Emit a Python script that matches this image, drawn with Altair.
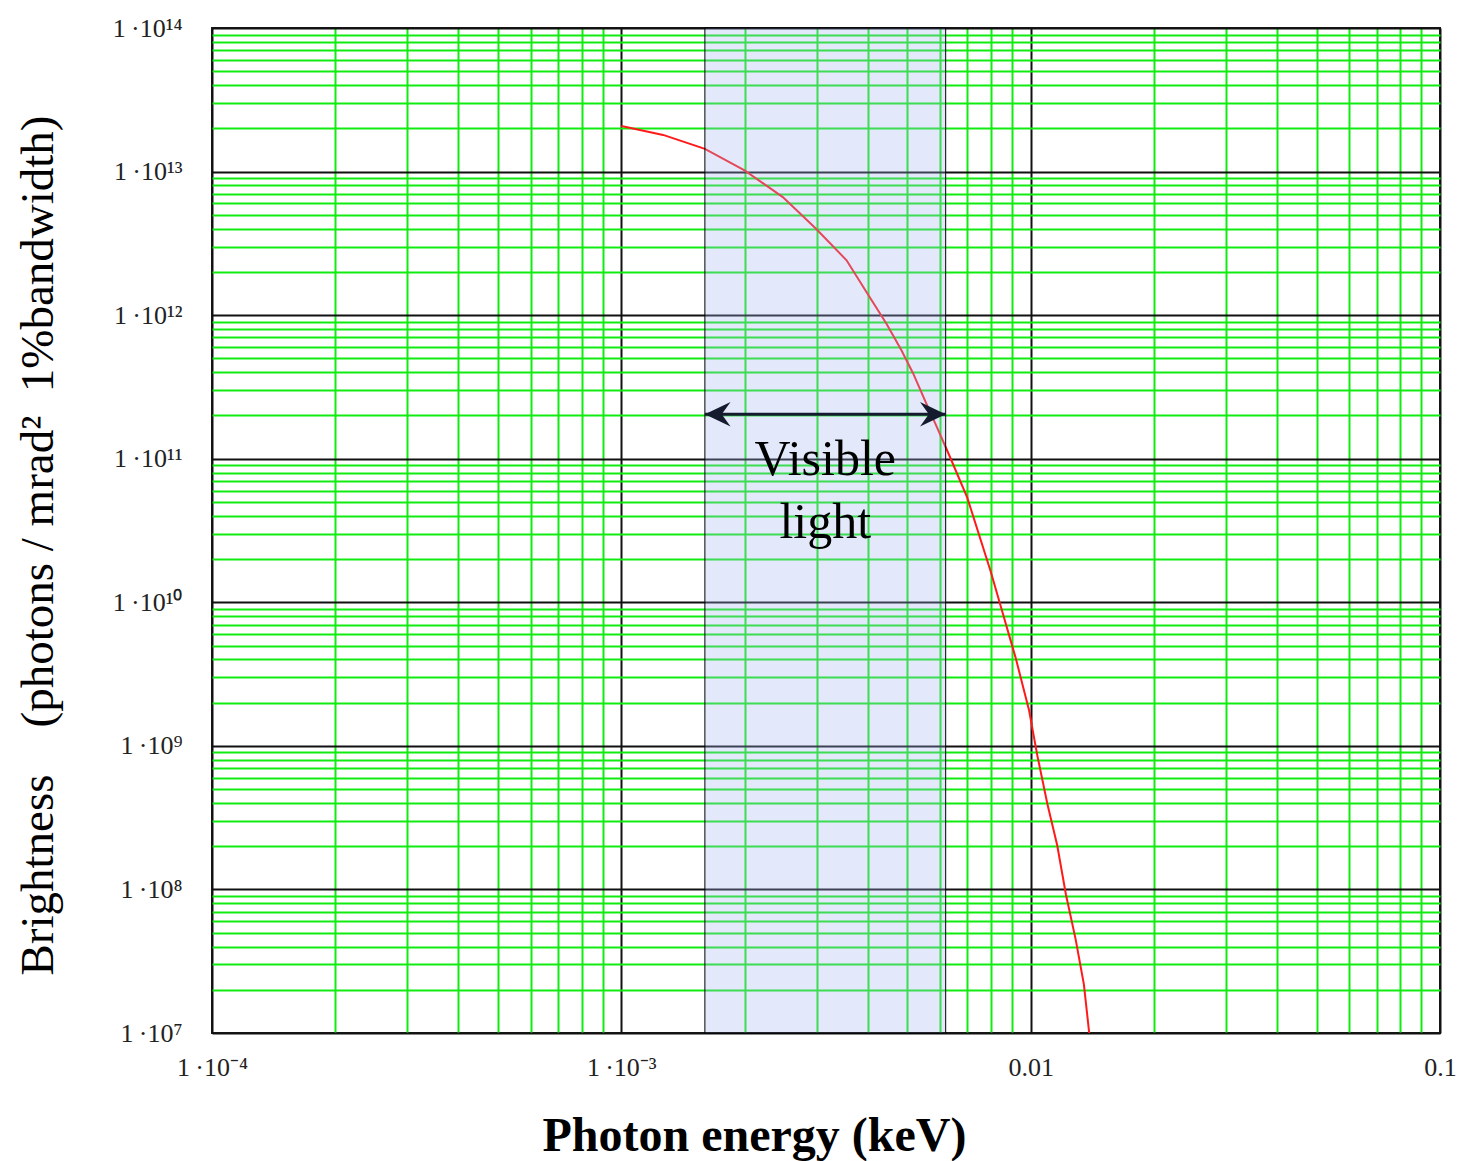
import altair as alt
import pandas as pd

# Synchrotron brightness spectrum (log-log)
energy_kev = [1.000e-3, 1.265e-3, 1.60e-3, 2.00e-3, 2.48e-3, 2.99e-3, 3.55e-3,
              3.97e-3, 4.44e-3, 4.83e-3, 5.16e-3, 5.51e-3, 5.89e-3, 6.34e-3,
              7.00e-3, 7.98e-3, 8.53e-3, 9.18e-3, 9.91e-3, 1.038e-2, 1.099e-2,
              1.161e-2, 1.219e-2, 1.288e-2, 1.349e-2, 1.39e-2]
brightness = [2.08e13, 1.80e13, 1.44e13, 1.02e13, 6.64e12, 4.00e12, 2.41e12,
              1.45e12, 8.75e11, 5.71e11, 3.94e11, 2.57e11, 1.68e11, 1.04e11,
              5.36e10, 1.65e10, 8.55e9, 4.15e9, 1.77e9, 8.59e8, 3.92e8,
              2.03e8, 9.25e7, 4.49e7, 2.18e7, 1.0e7]

# Visible-light band and its annotation
visible_band = [1.60e-3, 6.2e-3]
arrow_level = 2.04e11
label_lines = ["Visible", "light"]
label_x = [3.15e-3, 3.15e-3]
label_y = [7.71e10, 2.81e10]

# Axis decades and tick labels
x_exps = [-4, -3, -2, -1]
x_tick_labels = ["1\u2009\u00b710\u207b\u2074", "1\u2009\u00b710\u207b\u00b3", "0.01", "0.1"]
y_exps = [7, 8, 9, 10, 11, 12, 13, 14]
y_tick_labels = ["1\u2009\u00b710\u2077", "1\u2009\u00b710\u2078", "1\u2009\u00b710\u2079",
                 "1\u2009\u00b710\u00b9\u2070", "1\u2009\u00b710\u00b9\u00b9",
                 "1\u2009\u00b710\u00b9\u00b2", "1\u2009\u00b710\u00b9\u00b3",
                 "1\u2009\u00b710\u00b9\u2074"]
minor_steps = [1, 2, 3, 4, 5, 6, 7, 8, 9]

W, H = 1228, 1005
FONT = "Liberation Serif"
GREEN = "#10ec10"


def log_ticks(exps):
    vals = [m * 10.0 ** e for e in exps[:-1] for m in minor_steps]
    return vals + [10.0 ** exps[-1]]


def label_expr(exps, labels):
    expr = "''"
    for e, lab in zip(reversed(exps), reversed(labels)):
        expr = f"abs(log(datum.value)/LN10 - ({e})) < 1e-6 ? '{lab}' : " + expr
    return expr


decade_test = "abs(log(datum.value)/LN10 - round(log(datum.value)/LN10)) < 1e-6"
grid_color = {"condition": {"test": decade_test, "value": "#111111"}, "value": GREEN}

x_scale = alt.Scale(type="log", domain=[1e-4, 0.1], nice=False)
y_scale = alt.Scale(type="log", domain=[1e7, 1e14], nice=False)

x_axis = alt.Axis(
    values=log_ticks(x_exps), labelExpr=label_expr(x_exps, x_tick_labels),
    grid=True, gridColor=grid_color, gridWidth=2, gridOpacity=1,
    ticks=False, domain=False, labelFont=FONT, labelFontSize=26,
    labelColor="#222222", labelPadding=21, labelFlush=False, labelOverlap=False,
    title="Photon energy (keV)", titleFont=FONT, titleFontSize=48,
    titleFontWeight="bold", titleColor="black", titleX=542, titleY=117,
    titleAlign="center", titleBaseline="alphabetic",
)
y_axis = alt.Axis(
    values=log_ticks(y_exps), labelExpr=label_expr(y_exps, y_tick_labels),
    grid=True, gridColor=grid_color, gridWidth=2, gridOpacity=1,
    ticks=False, domain=False, labelFont=FONT, labelFontSize=26,
    labelColor="#222222", labelPadding=30, labelFlush=False, labelOverlap=False,
    labelBaseline="middle",
    title="Brightness\u00a0\u00a0\u00a0\u00a0(photons / mrad\u00b2\u00a0\u00a01%bandwidth)",
    titleFont=FONT, titleFontSize=47, titleFontWeight="normal", titleColor="black",
    titleAngle=270, titleX=-160, titleY=517, titleAlign="center",
    titleBaseline="alphabetic",
)

curve_df = pd.DataFrame({"energy": energy_kev, "brightness": brightness})
band_df = pd.DataFrame({"lo": [visible_band[0]], "hi": [visible_band[1]]})
arrow_df = pd.DataFrame({"x0": [visible_band[0]], "x1": [visible_band[1]], "y": [arrow_level]})
head_df = pd.DataFrame({"x": visible_band, "y": [arrow_level, arrow_level],
                        "side": ["left", "right"]})
text_df = pd.DataFrame({"x": label_x, "y": label_y, "t": label_lines})


def xenc(field):
    return alt.X(field, scale=x_scale, axis=x_axis)


def yenc(field):
    return alt.Y(field, scale=y_scale, axis=y_axis)


curve = alt.Chart(curve_df).mark_line(color="#ff1a1a", strokeWidth=2, clip=True).encode(
    x=xenc("energy:Q"),
    y=yenc("brightness:Q"),
)

band = alt.Chart(band_df).mark_rect(
    fill="#a2b6ee", fillOpacity=0.3, stroke="black", strokeWidth=1
).encode(
    x=xenc("lo:Q"),
    x2="hi:Q",
)

ink = "#151b2e"
arrow_line = alt.Chart(arrow_df).mark_rule(color=ink, strokeWidth=3).encode(
    x=xenc("x0:Q"),
    x2="x1:Q",
    y=yenc("y:Q"),
)

left_head = "M0,0 L1.9,-0.9 L1.25,0 L1.9,0.9 Z"
right_head = "M0,0 L-1.9,-0.9 L-1.25,0 L-1.9,0.9 Z"
heads = alt.Chart(head_df).mark_point(filled=True, size=729, color=ink, opacity=1).encode(
    x=xenc("x:Q"),
    y=yenc("y:Q"),
    shape=alt.Shape("side:N", scale=alt.Scale(domain=["left", "right"],
                                              range=[left_head, right_head]),
                    legend=None),
)

labels = alt.Chart(text_df).mark_text(
    font=FONT, fontSize=50, color="black", align="center", baseline="alphabetic"
).encode(
    x=xenc("x:Q"),
    y=yenc("y:Q"),
    text="t:N",
)

chart = alt.layer(curve, band, arrow_line, heads, labels).properties(
    width=W, height=H,
    autosize=alt.AutoSizeParams(type="none"),
    padding={"left": 212, "top": 28, "right": 26, "bottom": 128},
    background="white",
).configure_view(stroke="#1a1a1a", strokeWidth=2)

chart.save("out.html", embed_options={"renderer": "svg", "actions": False})
